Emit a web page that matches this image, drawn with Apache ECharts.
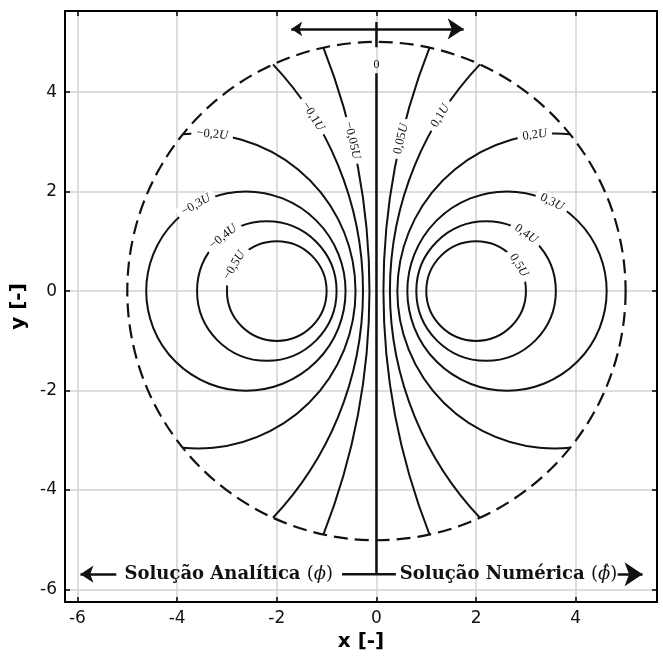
<!DOCTYPE html>
<html>
<head>
<meta charset="utf-8">
<script src="https://cdn.jsdelivr.net/npm/echarts@6/dist/echarts.min.js"></script>
<style>
  html, body { margin: 0; padding: 0; background: #fff; }
  #chart { width: 663px; height: 662px; }
</style>
</head>
<body>
<div id="chart"></div>
<script>
// Potential contours (Apollonian circles centred on the x axis), in units of U
const levels  = [-0.5, -0.4, -0.3, -0.2, -0.1, -0.05, 0.05, 0.1, 0.2, 0.3, 0.4, 0.5];
const centerX = [-2.0, -2.2, -2.62, -3.58, -6.9, -13.5, 13.5, 6.9, 3.58, 2.62, 2.2, 2.0];
const radius  = [1.0, 1.4, 2.0, 3.16, 6.63, 13.36, 13.36, 6.63, 3.16, 2.0, 1.4, 1.0];
// where each inline contour label sits
const labelX  = [-2.81, -3.05, -3.62, -3.30, -1.27, -0.47, 0.43, 1.26, 3.18, 3.51, 2.97, 2.81];
const labelY  = [0.49, 1.06, 1.73, 3.10, 3.51, 3.03, 3.07, 3.53, 3.10, 1.76, 1.10, 0.49];

// domain boundary
const boundaryRadius = 5;

// zero contour / divider between the two halves
const zeroContour   = [[0, 4.38], [0, -5.69]];
const dividerTop    = [[0, 5.41], [0, 4.90]];
const dividerBottom = [[-0.69, -5.69], [0.39, -5.69]];
const zeroLabelPos  = [0, 4.54];

// arrows
const topArrow   = [[-1.71, 5.27], [1.75, 5.27]];
const leftArrow  = [[-5.22, -5.69], [-5.94, -5.69]];
const rightArrow = [[4.84, -5.69], [5.34, -5.69]];

// captions
const captionLeft  = { x: -0.87, y: -5.69, text: '{b|Solução Analítica }{r|(}{i|ϕ}{r|)}' };
const captionRight = { x: 0.47, y: -5.69, text: '{b|Solução Numérica }{r|(}{i|ϕ̂}{r|)}' };

// axes
const axisMin = -6.25, axisMax = 5.63;
const tickValues = [-6, -4, -2, 0, 2, 4];

const INK = '#111';

function levelText(v) {
  return '{n|' + String(v).replace('-', '\u2212').replace('.', ',') + '}{u|U}';
}

function renderContour(params, api) {
  const cx = api.value(0), r = api.value(1), lx = api.value(2), ly = api.value(3);
  const lv = levels[params.dataIndex];
  const c = api.coord([cx, 0]);
  const rp = api.size([r, 0])[0];
  const R0 = boundaryRadius;
  const lineStyle = { fill: 'none', stroke: INK, lineWidth: 2 };
  let curve;
  if (Math.abs(cx) + r <= R0) {
    curve = { type: 'circle', shape: { cx: c[0], cy: c[1], r: rp }, style: lineStyle, z2: 1 };
  } else {
    // upper intersection with the boundary circle
    const xi = (cx * cx - r * r + R0 * R0) / (2 * cx);
    const yi = Math.sqrt(R0 * R0 - xi * xi);
    const th = Math.atan2(yi, xi - cx);
    curve = {
      type: 'arc',
      shape: { cx: c[0], cy: c[1], r: rp, startAngle: -th, endAngle: th, clockwise: cx < 0 },
      style: lineStyle,
      z2: 1
    };
  }
  // label sits on the curve, aligned with its tangent
  const phi = Math.atan2(ly, lx - cx);
  let rot = phi + Math.PI / 2;
  while (rot > Math.PI / 2) rot -= Math.PI;
  while (rot <= -Math.PI / 2) rot += Math.PI;
  const label = {
    type: 'text',
    x: c[0] + rp * Math.cos(phi),
    y: c[1] - rp * Math.sin(phi),
    rotation: rot,
    z2: 10,
    style: {
      text: levelText(lv),
      align: 'center',
      verticalAlign: 'middle',
      backgroundColor: '#fff',
      padding: [0, 5],
      rich: {
        n: { fontFamily: 'Liberation Serif', fontSize: 12.5, fill: INK },
        u: { fontFamily: 'Liberation Serif', fontStyle: 'italic', fontSize: 12.5, fill: INK }
      }
    }
  };
  return { type: 'group', children: [curve, label] };
}

function renderBoundary(params, api) {
  const c = api.coord([api.value(0), api.value(1)]);
  const rp = api.size([api.value(2), 0])[0];
  return {
    type: 'circle',
    shape: { cx: c[0], cy: c[1], r: rp },
    style: { fill: 'none', stroke: INK, lineWidth: 2.2, lineDash: [14, 7] }
  };
}

const captionRich = {
  b: { fontFamily: 'DejaVu Serif', fontWeight: 'bold', fontSize: 18, fill: INK },
  r: { fontFamily: 'DejaVu Serif', fontSize: 18, fill: INK },
  i: { fontFamily: 'DejaVu Serif', fontStyle: 'italic', fontSize: 18, fill: INK }
};

function renderTexts(params, api) {
  const i = params.dataIndex;
  const p = api.coord([api.value(0), api.value(1)]);
  if (i === 0) {
    return { type: 'text', x: p[0], y: p[1], style: { text: '0', align: 'center', verticalAlign: 'middle',
      fontFamily: 'Liberation Serif', fontSize: 12, fill: INK } };
  }
  const cap = i === 1 ? captionLeft : captionRight;
  return { type: 'text', x: p[0], y: p[1], style: { text: cap.text, align: i === 1 ? 'right' : 'left',
    verticalAlign: 'middle', rich: captionRich } };
}

const contourData = levels.map((v, i) => [centerX[i], radius[i], labelX[i], labelY[i], v]);

function lineSeries(data, width) {
  return { type: 'line', data: data, symbol: 'none', silent: true,
    lineStyle: { color: INK, width: width }, z: 3 };
}

const axisCommon = {
  type: 'value', min: axisMin, max: axisMax,
  axisLine: { show: true, onZero: false, lineStyle: { color: '#000', width: 2 } },
  axisTick: { show: true, inside: true, length: 5, customValues: tickValues, lineStyle: { color: '#000', width: 1.5 } }
};

const option = {
  animation: false,
  backgroundColor: '#fff',
  grid: { left: 65, top: 11, right: 6, bottom: 60 },
  xAxis: [
    Object.assign({}, axisCommon, {
      position: 'bottom',
      name: 'x [-]', nameLocation: 'middle', nameGap: 27,
      nameTextStyle: { fontFamily: 'DejaVu Sans', fontWeight: 'bold', fontSize: 20, color: '#000' },
      axisLabel: { customValues: tickValues, fontFamily: 'DejaVu Sans', fontSize: 17, color: INK, margin: 8 },
      splitLine: { show: true, lineStyle: { color: '#d2d2d2', width: 1.5 } }
    }),
    Object.assign({}, axisCommon, {
      position: 'top',
      axisLabel: { show: false },
      splitLine: { show: false }
    })
  ],
  yAxis: [
    Object.assign({}, axisCommon, {
      position: 'left',
      name: 'y [-]', nameLocation: 'middle', nameGap: 35,
      nameTextStyle: { fontFamily: 'DejaVu Sans', fontWeight: 'bold', fontSize: 20, color: '#000' },
      axisLabel: { customValues: tickValues, fontFamily: 'DejaVu Sans', fontSize: 17, color: INK, margin: 8 },
      splitLine: { show: true, lineStyle: { color: '#d2d2d2', width: 1.5 } }
    }),
    Object.assign({}, axisCommon, {
      position: 'right',
      axisLabel: { show: false },
      splitLine: { show: false }
    })
  ],
  series: [
    { type: 'custom', name: 'boundary', renderItem: renderBoundary, data: [[0, 0, boundaryRadius]], silent: true, z: 2 },
    { type: 'custom', name: 'contours', renderItem: renderContour, data: contourData, silent: true, z: 3 },
    lineSeries(zeroContour, 2.5),
    lineSeries(dividerTop, 2.5),
    lineSeries(dividerBottom, 2.5),
    {
      type: 'lines', coordinateSystem: 'cartesian2d', silent: true, z: 4,
      data: [
        { coords: topArrow, symbol: ['arrow', 'arrow'], symbolSize: [11, 16] },
        { coords: leftArrow, symbol: ['none', 'arrow'], symbolSize: [11, 13] },
        { coords: rightArrow, symbol: ['none', 'arrow'], symbolSize: [13, 18] }
      ],
      lineStyle: { color: INK, width: 2.5, opacity: 1 }
    },
    {
      type: 'custom', name: 'texts', renderItem: renderTexts, silent: true, z: 5,
      data: [zeroLabelPos, [captionLeft.x, captionLeft.y], [captionRight.x, captionRight.y]]
    }
  ]
};

const chart = echarts.init(document.getElementById('chart'), null, { renderer: 'canvas' });
chart.setOption(option);
</script>
</body>
</html>
